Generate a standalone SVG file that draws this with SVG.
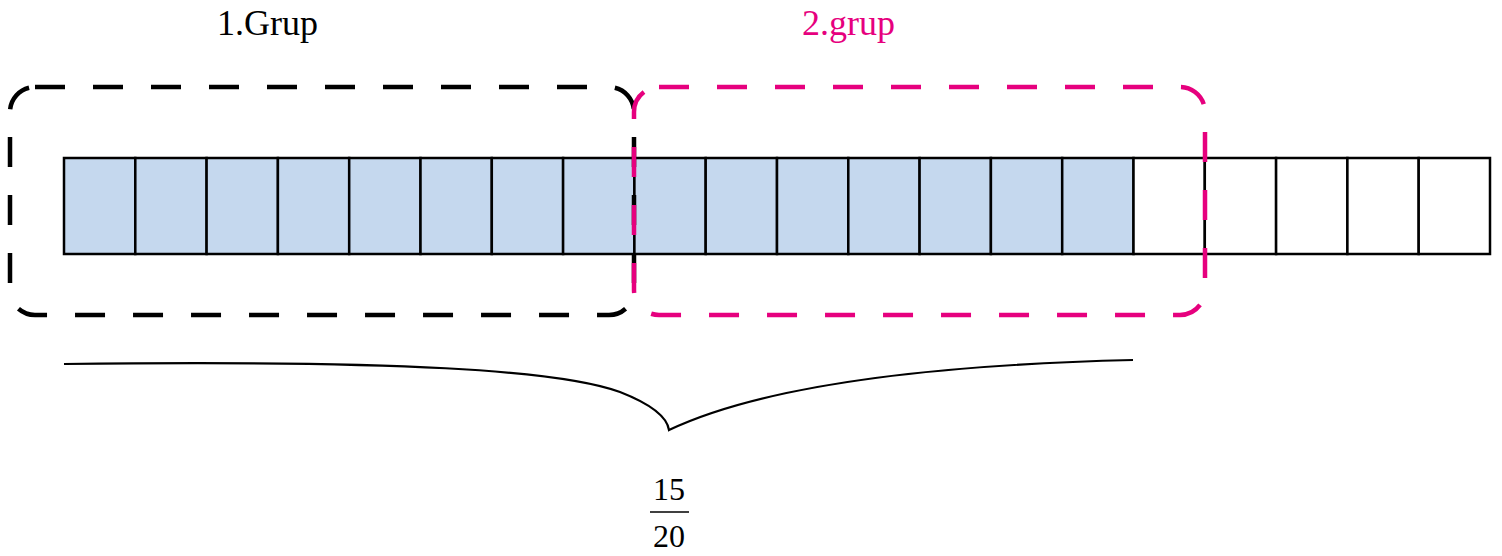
<svg xmlns="http://www.w3.org/2000/svg" width="1502" height="556" viewBox="0 0 1502 556">
<style>
.lbl{font-family:"Liberation Serif","Times New Roman",serif;font-size:36px}
.frac{font-family:"Liberation Serif","Times New Roman",serif;font-size:32px;text-anchor:middle}
.cell{stroke:#000;stroke-width:2.5;fill:#fff}
.cell.on{fill:#c5d8ee}
.grp{fill:none;stroke-width:4.5;stroke-dasharray:30 28;stroke-linecap:butt}
</style>
<rect width="1502" height="556" fill="#fff"/>
<g id="bar">
<rect class="cell on" x="64" y="158" width="71.3" height="96"/>
<rect class="cell on" x="135.3" y="158" width="71.3" height="96"/>
<rect class="cell on" x="206.6" y="158" width="71.3" height="96"/>
<rect class="cell on" x="277.9" y="158" width="71.3" height="96"/>
<rect class="cell on" x="349.2" y="158" width="71.3" height="96"/>
<rect class="cell on" x="420.5" y="158" width="71.3" height="96"/>
<rect class="cell on" x="491.8" y="158" width="71.3" height="96"/>
<rect class="cell on" x="563.1" y="158" width="71.3" height="96"/>
<rect class="cell on" x="634.4" y="158" width="71.3" height="96"/>
<rect class="cell on" x="705.7" y="158" width="71.3" height="96"/>
<rect class="cell on" x="777" y="158" width="71.3" height="96"/>
<rect class="cell on" x="848.3" y="158" width="71.3" height="96"/>
<rect class="cell on" x="919.6" y="158" width="71.3" height="96"/>
<rect class="cell on" x="990.9" y="158" width="71.3" height="96"/>
<rect class="cell on" x="1062.2" y="158" width="71.3" height="96"/>
<rect class="cell" x="1133.5" y="158" width="71.3" height="96"/>
<rect class="cell" x="1204.8" y="158" width="71.3" height="96"/>
<rect class="cell" x="1276.1" y="158" width="71.3" height="96"/>
<rect class="cell" x="1347.4" y="158" width="71.3" height="96"/>
<rect class="cell" x="1418.7" y="158" width="71.3" height="96"/>
</g>
<g id="group1">
<rect class="grp" x="10" y="87" width="624" height="228" rx="25" stroke="#000"/>
<text class="lbl" x="217" y="35" fill="#000">1.Grup</text>
</g>
<g id="group2">
<rect class="grp" x="634" y="87" width="571" height="228" rx="25" stroke="#e6007e"/>
<text class="lbl" x="802" y="35" fill="#e6007e">2.grup</text>
</g>
<g id="brace">
<path d="M64,364 C400,360 560,370 620,392 Q666,410 669,430 Q800,368 1133,360" fill="none" stroke="#000" stroke-width="2.2"/>
</g>
<g id="fraction">
<text class="frac" x="669" y="500">15</text>
<line x1="650" y1="512" x2="689" y2="512" stroke="#000" stroke-width="1.5"/>
<text class="frac" x="669" y="547">20</text>
</g>
</svg>
